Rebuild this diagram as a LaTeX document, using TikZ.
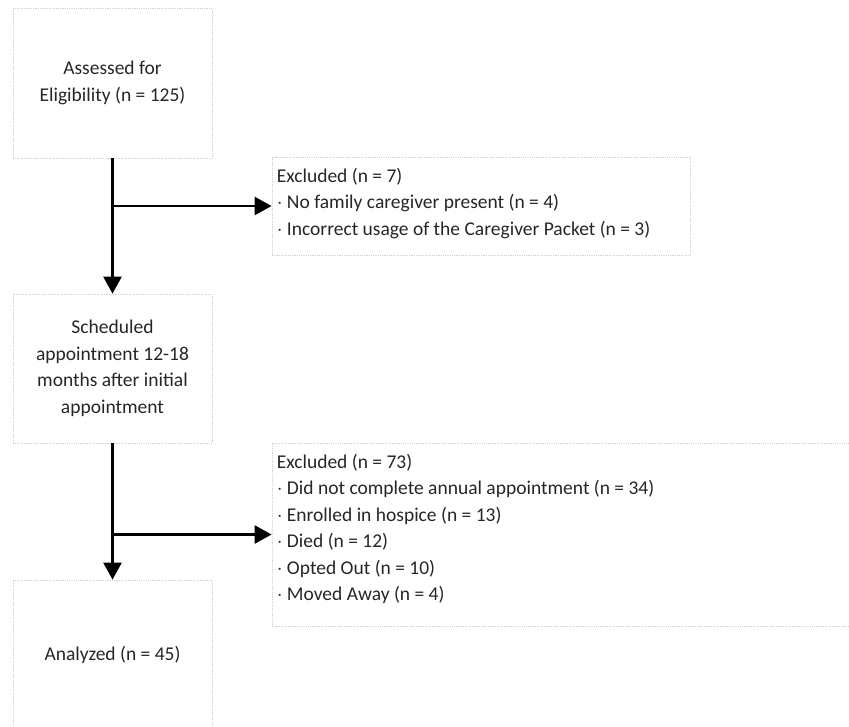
\documentclass[tikz,border=0pt]{standalone}
\usepackage{fontspec}
\setmainfont{Carlito}
\usetikzlibrary{arrows.meta}

\begin{document}
\begin{tikzpicture}[x=1pt, y=-1pt,
    box/.style={draw=black!18, densely dotted, line width=0.8pt, rectangle,
      inner sep=0pt, minimum width=199pt},
    info/.style={anchor=north west, align=left, inner xsep=5pt, inner ysep=0pt,
      text=black!85, font=\fontsize{19.5}{26.5}\selectfont},
    label/.style={align=center, text=black!85, font=\fontsize{19.5}{26.5}\selectfont},
    flow/.style={line width=2.6pt, -{Triangle[length=17pt, width=18pt]}}]
  \useasboundingbox (0,0) rectangle (849,726);
  \clip (0,0) rectangle (849,726);

  \node[box, minimum height=150pt] (assess) at (112.5, 83) {};
  \node[box, minimum height=149pt] (sched)  at (112.5, 368.5) {};
  \node[box, minimum height=150pt] (anal)   at (112.5, 655) {};
  \node[box, minimum width=418pt, minimum height=98pt]  (excla) at (481, 206) {};
  \node[box, minimum width=590pt, minimum height=183pt] (exclb) at (567, 534.5) {};

  \node[label] (assesst) at (assess) {Assessed for\\Eligibility (n = 125)};
  \node[label] (schedt) at (sched)
    {Scheduled\\appointment 12-18\\months after initial\\appointment};
  \node[label] (analt) at (anal) {Analyzed (n = 45)};

  \node[info] (exclat) at ([yshift=-11pt]excla.north west)
    {Excluded (n = 7)\\$\cdot$ No family caregiver present (n = 4)\\
     $\cdot$ Incorrect usage of the Caregiver Packet (n = 3)};
  \node[info] (exclbt) at ([yshift=-11pt]exclb.north west)
    {Excluded (n = 73)\\$\cdot$ Did not complete annual appointment (n = 34)\\
     $\cdot$ Enrolled in hospice (n = 13)\\$\cdot$ Died (n = 12)\\
     $\cdot$ Opted Out (n = 10)\\$\cdot$ Moved Away (n = 4)};

  \draw[flow] (assess.south) -- (sched.north);
  \draw[flow] (assess.south |- excla.west) -- (excla.west);
  \draw[flow] (sched.south) -- (anal.north);
  \draw[flow] (sched.south |- exclb.west) -- (exclb.west);
\end{tikzpicture}
\end{document}
